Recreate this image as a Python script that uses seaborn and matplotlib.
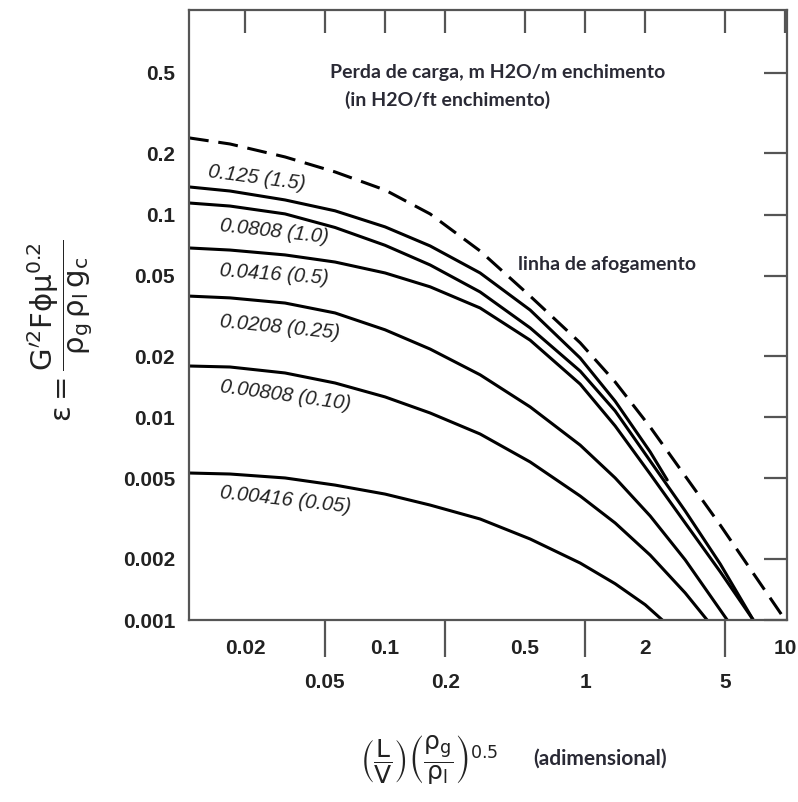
import pandas as pd
import matplotlib
matplotlib.use('Agg')
import matplotlib.pyplot as plt
import seaborn as sns
from matplotlib.ticker import FixedLocator, FixedFormatter, NullLocator

# linha de afogamento (tracejada)
flood_x = [0.01047, 0.01679, 0.03162, 0.05623, 0.1, 0.1679, 0.2985, 0.5309, 0.9441,
           1.4125, 2.113, 3.162, 4.732, 10.0]
flood_y = [0.2388, 0.2228, 0.1923, 0.1622, 0.1321, 0.1007, 0.0661, 0.0396, 0.0233,
           0.01493, 0.00895, 0.00513, 0.00294, 0.001]

# curvas de perda de carga
dp_labels = ['0.125 (1.5)', '0.0808 (1.0)', '0.0416 (0.5)',
             '0.0208 (0.25)', '0.00808 (0.10)', '0.00416 (0.05)']
c125_x = [0.01047, 0.01679, 0.03162, 0.05623, 0.1, 0.1679, 0.2985, 0.5309, 0.9441,
          1.4125, 2.113, 2.57]
c125_y = [0.1368, 0.1306, 0.1180, 0.1043, 0.0869, 0.0700, 0.0515, 0.0338, 0.0196,
          0.0120, 0.00675, 0.00491]
c0808_x = [0.01047, 0.01679, 0.03162, 0.05623, 0.1, 0.1679, 0.2985, 0.5309, 0.9441,
           1.4125, 2.113, 3.162, 4.732, 6.92]
c0808_y = [0.1140, 0.1101, 0.1007, 0.0863, 0.0705, 0.0564, 0.0415, 0.0276, 0.0169,
           0.01074, 0.00609, 0.00345, 0.00189, 0.001]
c0416_x = [0.01047, 0.01679, 0.03162, 0.05623, 0.1, 0.1679, 0.2985, 0.5309, 0.9441,
           1.4125, 2.113, 3.162, 4.732, 6.92]
c0416_y = [0.0684, 0.0668, 0.0632, 0.0583, 0.0515, 0.0440, 0.0346, 0.0240, 0.01458,
           0.00906, 0.00525, 0.00301, 0.00173, 0.001]
c0208_x = [0.01047, 0.01679, 0.03162, 0.05623, 0.1, 0.1679, 0.2985, 0.5309, 0.9441,
           1.4125, 2.113, 3.162, 5.13]
c0208_y = [0.0396, 0.0388, 0.0366, 0.0327, 0.0270, 0.0217, 0.0162, 0.01125, 0.00729,
           0.00502, 0.00326, 0.00198, 0.001]
c00808_x = [0.01047, 0.01679, 0.03162, 0.05623, 0.1, 0.1679, 0.2985, 0.5309, 0.9441,
            1.4125, 2.113, 3.162, 4.07]
c00808_y = [0.0179, 0.0177, 0.01654, 0.01476, 0.0126, 0.01050, 0.00827, 0.00602, 0.00409,
            0.00301, 0.00209, 0.00136, 0.001]
c00416_x = [0.01047, 0.01679, 0.03162, 0.05623, 0.1, 0.1679, 0.2985, 0.5309, 0.9441,
            1.4125, 1.995, 2.43]
c00416_y = [0.00531, 0.00525, 0.00502, 0.00463, 0.00418, 0.00369, 0.00315, 0.00251, 0.00191,
            0.00151, 0.00119, 0.001]

xticks_top = [0.02, 0.05, 0.1, 0.2, 0.5, 1, 2, 5, 10]
xlabels_row1 = ['0.02', '', '0.1', '', '0.5', '', '2', '', '10']
xticks_row2 = [0.05, 0.2, 1, 5]
xlabels_row2 = ['0.05', '0.2', '1', '5']
yticks = [0.001, 0.002, 0.005, 0.01, 0.02, 0.05, 0.1, 0.2, 0.5]
ylabels = ['0.001', '0.002', '0.005', '0.01', '0.02', '0.05', '0.1', '0.2', '0.5']

curves_x = [c125_x, c0808_x, c0416_x, c0208_x, c00808_x, c00416_x]
curves_y = [c125_y, c0808_y, c0416_y, c0208_y, c00808_y, c00416_y]
df = pd.concat([pd.DataFrame({'x': xs, 'y': ys, 'curva': lab})
                for lab, xs, ys in zip(dp_labels, curves_x, curves_y)])

sns.set_style('white')
plt.rcParams['font.family'] = ['Liberation Sans', 'DejaVu Sans']

fig = plt.figure(figsize=(7.98, 8.02), dpi=100)
ax = fig.add_axes([0.2368, 0.2269, 0.7494, 0.7606])

sns.lineplot(data=df, x='x', y='y', units='curva', estimator=None, sort=False,
             color='black', lw=2.2, ax=ax)
sns.lineplot(x=flood_x, y=flood_y, estimator=None, sort=False, color='black',
             lw=2.2, linestyle=(0, (6.5, 3.2)), ax=ax)

ax.set_xscale('log')
ax.set_yscale('log')
ax.set_xlim(0.01047, 10.2)
ax.set_ylim(0.001, 1.02)
ax.set_xlabel('')
ax.set_ylabel('')

gray = '#555555'
for s in ax.spines.values():
    s.set_color(gray)
    s.set_linewidth(1.6)

ax.xaxis.set_major_locator(FixedLocator(xticks_top))
ax.xaxis.set_major_formatter(FixedFormatter(xlabels_row1))
ax.xaxis.set_minor_locator(NullLocator())
ax.yaxis.set_major_locator(FixedLocator(yticks))
ax.yaxis.set_major_formatter(FixedFormatter(ylabels))
ax.yaxis.set_minor_locator(NullLocator())
ax.tick_params(which='major', direction='in', length=16.5, width=1.6, color=gray,
               top=True, right=True, labelsize=15, labelcolor='#222222')
ax.tick_params(axis='x', pad=14)
ax.tick_params(axis='y', pad=10)
for t in ax.get_xticklabels() + ax.get_yticklabels():
    t.set_fontweight('bold')

sec = ax.secondary_xaxis('bottom')
sec.set_xticks(xticks_row2)
sec.set_xticklabels(xlabels_row2)
sec.xaxis.set_minor_locator(NullLocator())
sec.tick_params(direction='out', length=26.5, width=1.6, color=gray,
                labelsize=15, labelcolor='#222222', pad=12)
sec.spines['bottom'].set_visible(False)
for t in sec.get_xticklabels():
    t.set_fontweight('bold')

# rotulos das curvas
label_pos = [(0.0130, 0.162, -7.5), (0.01496, 0.0879, -6.3), (0.01496, 0.0527, -4.2),
             (0.01496, 0.0298, -5.6), (0.01496, 0.0141, -7.8), (0.01496, 0.00427, -6.4)]
for lab, (lx, ly, rot) in zip(dp_labels, label_pos):
    ax.text(lx, ly, lab, rotation=rot, rotation_mode='anchor', ha='left', va='center',
            fontsize=14.5, style='italic', color='#222222')

ann = dict(family=['Lato', 'DejaVu Sans'], fontsize=14, color='#2a2a35', fontweight='bold')
ax.text(0.0531, 0.50, 'Perda de carga, m H2O/m enchimento', ha='left', va='center', **ann)
ax.text(0.0631, 0.367, '(in H2O/ft enchimento)', ha='left', va='center', **ann)
ax.text(0.462, 0.0564, 'linha de afogamento', ha='left', va='center', **ann)

fig.text(60 / 798, 1 - 331 / 802,
         r'$\mathrm{\epsilon} = \dfrac{\mathrm{G^{\prime 2}F\phi\mu^{0.2}}}'
         r'{\mathrm{\rho_g\,\rho_l\,g_c}}$',
         rotation=90, ha='center', va='center', fontsize=21, color='#222222')
fig.text(360 / 798, 1 - 760 / 802,
         r'$\left(\dfrac{\mathrm{L}}{\mathrm{V}}\right)'
         r'\left(\dfrac{\mathrm{\rho_g}}{\mathrm{\rho_l}}\right)^{0.5}$',
         ha='left', va='center', fontsize=18, color='#222222')
fig.text(533 / 798, 1 - 759 / 802, '(adimensional)', ha='left', va='center',
         family=['Lato', 'DejaVu Sans'], fontsize=15, fontweight='bold', color='#2a2a35')

fig.savefig('out.png', dpi=100)
